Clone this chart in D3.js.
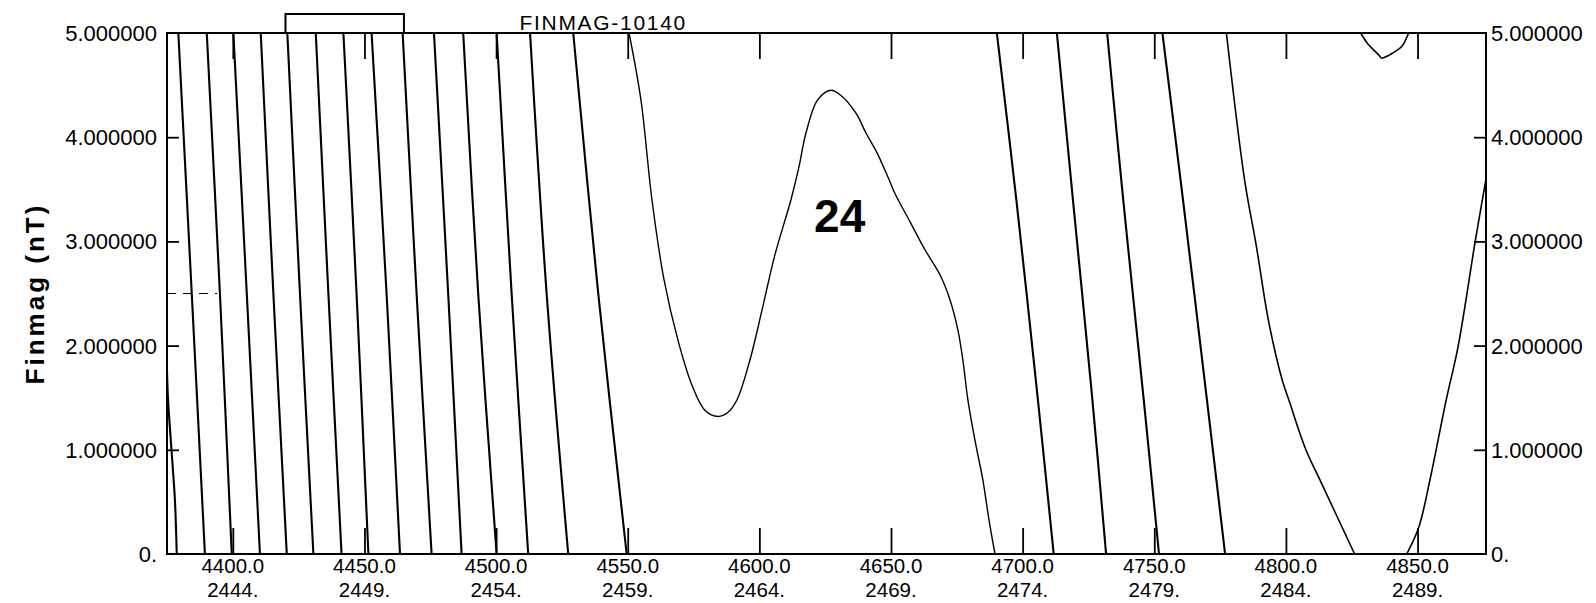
<!DOCTYPE html>
<html>
<head>
<meta charset="utf-8">
<script src="https://cdnjs.cloudflare.com/ajax/libs/d3/7.8.5/d3.min.js"></script>
<style>
  body { margin: 0; background: #fff; }
  svg { display: block; font-family: "Liberation Sans", Arial, sans-serif; }
</style>
</head>
<body>
<script>
var width = 1596;
var height = 603;
var margin = {top: 33, bottom: 49, left: 167, right: 110};

var title = "FINMAG-10140";
var yTitle = "Finmag (nT)";

// x axis: station on first row, fiducial on second
var stations = [4400, 4450, 4500, 4550, 4600, 4650, 4700, 4750, 4800, 4850];
var fiducials = [2444, 2449, 2454, 2459, 2464, 2469, 2474, 2479, 2484, 2489];
var yTicks = [0, 1, 2, 3, 4, 5];

// left group of contours, station where each one crosses these levels
var leftLevels = [5, 2.5, 0];
var leftLines = [
    [4379.3, 4384.4, 4389.4],
    [4390.1, 4395.1, 4399.6],
    [4400.2, 4405.3, 4410.3],
    [4410.6, 4415.4, 4420.5],
    [4420.7, 4425.5, 4430.6],
    [4431.5, 4436.3, 4441.3],
    [4442.0, 4447.0, 4451.5],
    [4452.7, 4458.4, 4463.5],
    [4464.5, 4469.8, 4475.5],
    [4476.4, 4481.8, 4486.9],
    [4487.5, 4493.2, 4500.2],
    [4500.2, 4505.9, 4512.2],
    [4512.9, 4519.2, 4527.4],
    [4529.3, 4538.8, 4549.6]
];

// right group of contours
var rightLevels = [5, 3.4, 1.48, 0];
var rightLines = [
    [4690.2, 4697.6, 4705.8, 4711.8],
    [4713.0, 4719.1, 4726.5, 4731.7],
    [4732.1, 4738.2, 4746.0, 4751.8],
    [4753.1, 4760.9, 4770.0, 4776.9]
];

// contour leaving the left edge
var edgeLine = [[4375.0, 1.75], [4375.4, 1.48], [4376.7, 1.0], [4378.0, 0.52], [4378.7, 0]];

// the big trough / peak contour
var bigLine = [
    [4550.5, 5.0], [4555.0, 4.36], [4559.2, 3.40], [4563.8, 2.63], [4569.1, 2.05],
    [4574.4, 1.62], [4579.3, 1.38], [4584.3, 1.32], [4588.1, 1.36], [4591.5, 1.48],
    [4596.4, 1.86], [4601.0, 2.34], [4605.9, 2.87], [4612.0, 3.40], [4615.0, 3.71],
    [4617.7, 4.04], [4622.2, 4.36], [4627.2, 4.45], [4631.0, 4.40], [4636.7, 4.23],
    [4640.5, 4.04], [4644.7, 3.85], [4648.8, 3.62], [4651.5, 3.46], [4657.2, 3.19],
    [4662.9, 2.92], [4668.6, 2.68], [4672.4, 2.44], [4675.4, 2.15], [4677.3, 1.86],
    [4679.2, 1.48], [4681.9, 1.09], [4684.9, 0.71], [4687.2, 0.33], [4689.5, 0]
];

var bendLine = [
    [4777.4, 5.0], [4784.3, 3.59], [4788.8, 2.95], [4793.3, 2.25], [4798.6, 1.67],
    [4801.1, 1.48], [4807.6, 1.0], [4813.5, 0.68], [4826.1, 0]
];

var edgeRightLine = [
    [4845.9, 0], [4850.5, 0.26], [4854.7, 0.71], [4860.9, 1.48], [4865.4, 1.99],
    [4871.9, 3.0], [4876.0, 3.6]
];

var capLine = [
    [4828.4, 5.0], [4831.0, 4.90], [4835.6, 4.78], [4836.2, 4.76], [4839.4, 4.79],
    [4840.7, 4.81], [4844.0, 4.87], [4846.6, 5.0]
];

var windowRange = [4420, 4465];
var markLevel = 2.5;
var markEnd = 4394;
var peakLabel = "24";
var peakPos = [4630.5, 3.25];

var svg = d3.select("body").append("svg")
    .attr("width", width)
    .attr("height", height);

svg.append("rect").attr("width", width).attr("height", height).attr("fill", "#fff");

var x = d3.scaleLinear()
    .domain([4375, 4876])
    .range([margin.left, width - margin.right]);

var y = d3.scaleLinear()
    .domain([0, 5])
    .range([height - margin.bottom, margin.top]);

svg.append("clipPath").attr("id", "plot")
    .append("rect")
    .attr("x", margin.left).attr("y", margin.top)
    .attr("width", x.range()[1] - x.range()[0])
    .attr("height", y.range()[0] - y.range()[1]);

var plot = svg.append("g").attr("clip-path", "url(#plot)");

var smooth = d3.line()
    .x(function(d){ return x(d[0]); })
    .y(function(d){ return y(d[1]); })
    .curve(d3.curveCatmullRom);

plot.selectAll(".left")
    .data(leftLines)
    .enter()
    .append("path")
        .attr("class", "left")
        .attr("d", function(row){
            return smooth(row.map(function(s, i){ return [s, leftLevels[i]]; }));
        });

plot.selectAll(".right")
    .data(rightLines)
    .enter()
    .append("path")
        .attr("class", "right")
        .attr("d", function(row){
            return smooth(row.map(function(s, i){ return [s, rightLevels[i]]; }));
        });

plot.append("path").attr("d", smooth(edgeLine));
plot.append("path").attr("d", smooth(bigLine)).attr("stroke-width", 1.4);
plot.append("path").attr("d", smooth(bendLine)).attr("stroke-width", 1.6);
plot.append("path").attr("d", smooth(edgeRightLine)).attr("stroke-width", 1.6);
plot.append("path").attr("d", smooth(capLine)).attr("stroke-width", 1.6);

plot.selectAll("path")
    .attr("fill", "none")
    .attr("stroke", "#000")
    .attr("stroke-width", function(){
        return d3.select(this).attr("stroke-width") || 2.1;
    });

// dashed mark at mid level near left edge
plot.append("line")
    .attr("x1", x(4375)).attr("x2", x(markEnd))
    .attr("y1", y(markLevel)).attr("y2", y(markLevel))
    .attr("stroke", "#000")
    .attr("stroke-width", 1.2)
    .attr("stroke-dasharray", "9,7");

// ticks, all pointing into the frame
function cleanAxis(g){
    g.select(".domain").remove();
    g.selectAll("text").remove();
    g.selectAll("line").attr("stroke", "#000").attr("stroke-width", 1.8);
}

svg.append("g")
    .attr("transform", "translate(0," + y(0) + ")")
    .call(d3.axisBottom(x).tickValues(stations).tickSize(-26))
    .call(cleanAxis);

svg.append("g")
    .attr("transform", "translate(0," + y(5) + ")")
    .call(d3.axisTop(x).tickValues(stations).tickSize(-26))
    .call(cleanAxis);

svg.append("g")
    .attr("transform", "translate(" + x(4375) + ",0)")
    .call(d3.axisLeft(y).tickValues([1, 2, 3, 4]).tickSize(-12))
    .call(cleanAxis);

svg.append("g")
    .attr("transform", "translate(" + x(4876) + ",0)")
    .call(d3.axisRight(y).tickValues([1, 2, 3, 4]).tickSize(-12))
    .call(cleanAxis);

// frame
svg.append("rect")
    .attr("x", x(4375)).attr("y", y(5))
    .attr("width", x(4876) - x(4375))
    .attr("height", y(0) - y(5))
    .attr("fill", "none")
    .attr("stroke", "#000")
    .attr("stroke-width", 2);

// window box above the frame
svg.append("rect")
    .attr("x", x(windowRange[0])).attr("y", y(5) - 19)
    .attr("width", x(windowRange[1]) - x(windowRange[0]))
    .attr("height", 19)
    .attr("fill", "none")
    .attr("stroke", "#000")
    .attr("stroke-width", 2);

function yFormat(v){
    return v === 0 ? "0." : v.toFixed(6);
}

svg.selectAll(".ylabL")
    .data(yTicks)
    .enter()
    .append("text")
        .attr("class", "ylabL")
        .attr("x", x(4375) - 10)
        .attr("y", function(d){ return y(d); })
        .attr("dy", "0.36em")
        .attr("text-anchor", "end")
        .attr("font-size", 22)
        .text(yFormat);

svg.selectAll(".ylabR")
    .data(yTicks)
    .enter()
    .append("text")
        .attr("class", "ylabR")
        .attr("x", x(4876) + 5)
        .attr("y", function(d){ return y(d); })
        .attr("dy", "0.36em")
        .attr("text-anchor", "start")
        .attr("font-size", 22)
        .text(yFormat);

svg.selectAll(".xlab")
    .data(stations)
    .enter()
    .append("text")
        .attr("class", "xlab")
        .attr("x", function(d){ return x(d); })
        .attr("y", 573)
        .attr("text-anchor", "middle")
        .attr("font-size", 20.5)
        .text(function(d){ return d.toFixed(1); });

svg.selectAll(".flab")
    .data(fiducials)
    .enter()
    .append("text")
        .attr("class", "flab")
        .attr("x", function(d, i){ return x(stations[i]); })
        .attr("y", 597)
        .attr("text-anchor", "middle")
        .attr("font-size", 20.5)
        .text(function(d){ return d + "."; });

svg.append("text")
    .attr("x", 519.5)
    .attr("y", 29.5)
    .attr("font-size", 21)
    .attr("letter-spacing", 1.7)
    .text(title);

svg.append("text")
    .attr("transform", "translate(44," + y(2.5) + ") rotate(-90)")
    .attr("text-anchor", "middle")
    .attr("font-size", 26)
    .attr("font-weight", "bold")
    .attr("letter-spacing", 3)
    .text(yTitle);

svg.append("text")
    .attr("x", x(peakPos[0]))
    .attr("y", y(peakPos[1]))
    .attr("dy", "0.36em")
    .attr("text-anchor", "middle")
    .attr("font-size", 46)
    .attr("font-weight", "bold")
    .text(peakLabel);
</script>
</body>
</html>
